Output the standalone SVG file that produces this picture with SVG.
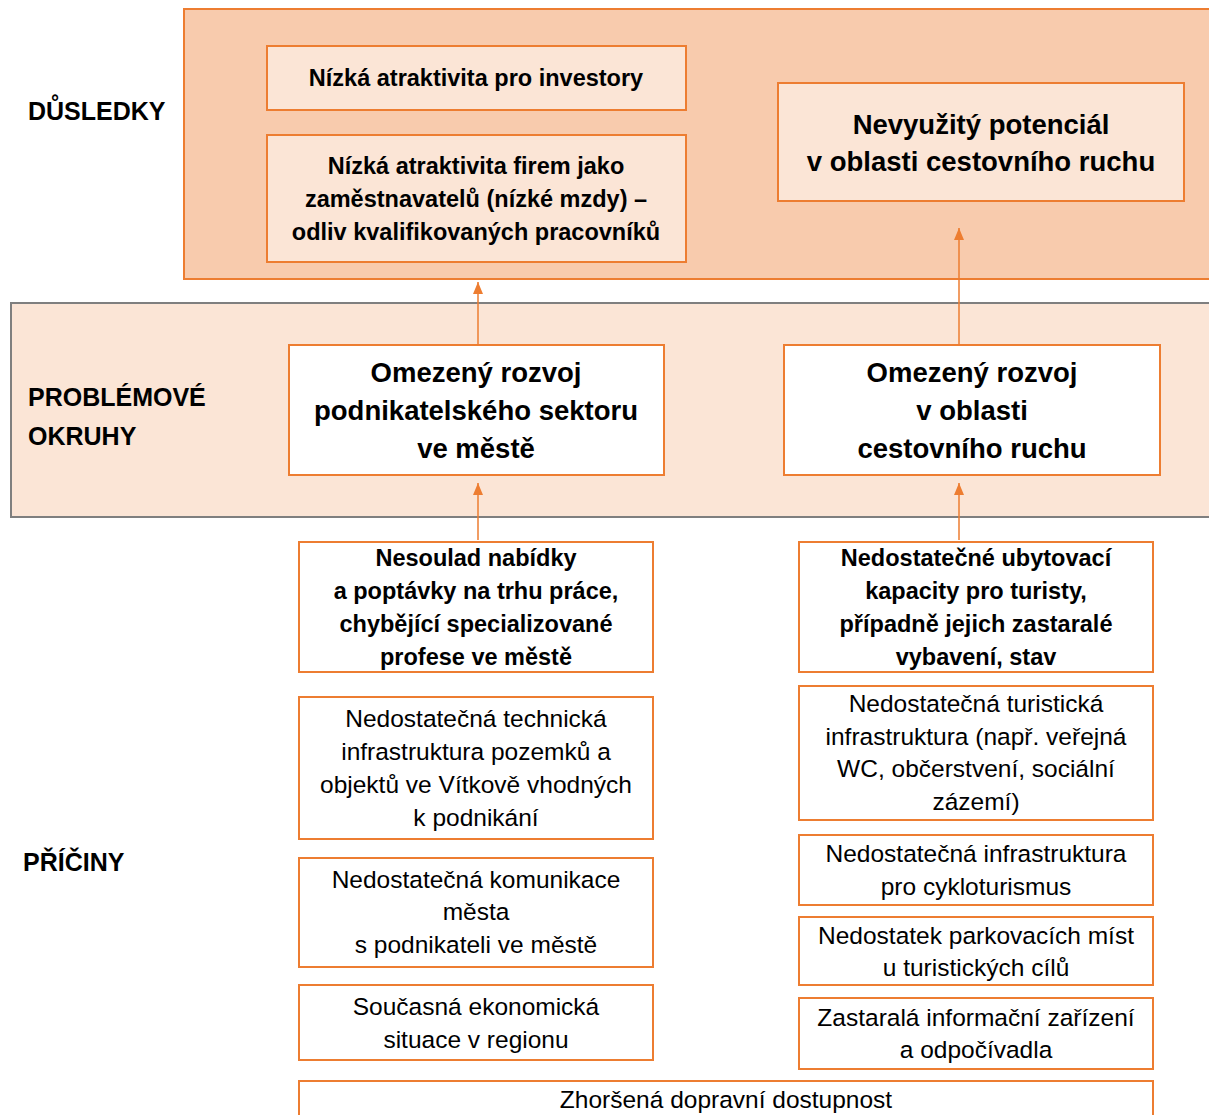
<svg xmlns="http://www.w3.org/2000/svg" width="1209" height="1115" viewBox="0 0 1209 1115">
<defs>
<marker id="ah" viewBox="0 0 12 10" refX="12" refY="5" markerWidth="12" markerHeight="10" markerUnits="userSpaceOnUse" orient="auto">
<path d="M0,0 L12,5 L0,10 Z" fill="#ED7D31"/>
</marker>
<style>
.band1{fill:#F8CBAD;stroke:#ED7D31;stroke-width:2}
.band2{fill:#FBE5D6;stroke:#7F7F7F;stroke-width:2}
.bx{fill:#FFFFFF;stroke:#ED7D31;stroke-width:2}
.bxl{fill:#FBE5D6;stroke:#ED7D31;stroke-width:2}
text{font-family:"Liberation Sans",Arial,sans-serif;fill:#000;text-anchor:middle}
.b24{font-size:23.5px;font-weight:bold}
.b28{font-size:27.5px;font-weight:bold}
.r24{font-size:24.5px}
.lab{font-size:25px;font-weight:bold;text-anchor:start}
.conn{stroke:#ED7D31;stroke-width:1.5;fill:none}
</style>
</defs>
<g id="bands">
<rect class="band1" x="184" y="9" width="1040" height="270"/>
<rect class="band2" x="11" y="303" width="1213" height="214"/>
</g>
<g id="labels">
<text class="lab" x="28" y="120">DŮSLEDKY</text>
<text class="lab" x="28" y="406">PROBLÉMOVÉ</text>
<text class="lab" x="28" y="445">OKRUHY</text>
<text class="lab" x="23" y="871">PŘÍČINY</text>
</g>
<g id="n_investory">
<rect class="bxl" x="267" y="46" width="419" height="64"/>
<text class="b24" x="476" y="86">Nízká atraktivita pro investory</text>
</g>
<g id="n_zamestnavatele">
<rect class="bxl" x="267" y="135" width="419" height="127"/>
<text class="b24" x="476" y="174">Nízká atraktivita firem jako</text>
<text class="b24" x="476" y="207">zaměstnavatelů (nízké mzdy) –</text>
<text class="b24" x="476" y="240">odliv kvalifikovaných pracovníků</text>
</g>
<g id="n_potencial">
<rect class="bxl" x="778" y="83" width="406" height="118"/>
<text class="b28" x="981" y="134">Nevyužitý potenciál</text>
<text class="b28" x="981" y="171">v oblasti cestovního ruchu</text>
</g>
<g id="n_podnik">
<rect class="bx" x="289" y="345" width="375" height="130"/>
<text class="b28" x="476" y="382">Omezený rozvoj</text>
<text class="b28" x="476" y="420">podnikatelského sektoru</text>
<text class="b28" x="476" y="458">ve městě</text>
</g>
<g id="n_cestovni">
<rect class="bx" x="784" y="345" width="376" height="130"/>
<text class="b28" x="972" y="382">Omezený rozvoj</text>
<text class="b28" x="972" y="420">v oblasti</text>
<text class="b28" x="972" y="458">cestovního ruchu</text>
</g>
<g id="n_nesoulad">
<rect class="bx" x="299" y="542" width="354" height="130"/>
<text class="b24" x="476" y="566">Nesoulad nabídky</text>
<text class="b24" x="476" y="599">a poptávky na trhu práce,</text>
<text class="b24" x="476" y="632">chybějící specializované</text>
<text class="b24" x="476" y="665">profese ve městě</text>
</g>
<g id="n_technicka">
<rect class="bx" x="299" y="697" width="354" height="142"/>
<text class="r24" x="476" y="727">Nedostatečná technická</text>
<text class="r24" x="476" y="760">infrastruktura pozemků a</text>
<text class="r24" x="476" y="793">objektů ve Vítkově vhodných</text>
<text class="r24" x="476" y="826">k podnikání</text>
</g>
<g id="n_komunikace">
<rect class="bx" x="299" y="858" width="354" height="109"/>
<text class="r24" x="476" y="888">Nedostatečná komunikace</text>
<text class="r24" x="476" y="920">města</text>
<text class="r24" x="476" y="953">s podnikateli ve městě</text>
</g>
<g id="n_ekonomicka">
<rect class="bx" x="299" y="985" width="354" height="75"/>
<text class="r24" x="476" y="1015">Současná ekonomická</text>
<text class="r24" x="476" y="1048">situace v regionu</text>
</g>
<g id="n_ubytovaci">
<rect class="bx" x="799" y="542" width="354" height="130"/>
<text class="b24" x="976" y="566">Nedostatečné ubytovací</text>
<text class="b24" x="976" y="599">kapacity pro turisty,</text>
<text class="b24" x="976" y="632">případně jejich zastaralé</text>
<text class="b24" x="976" y="665">vybavení, stav</text>
</g>
<g id="n_turisticka">
<rect class="bx" x="799" y="686" width="354" height="134"/>
<text class="r24" x="976" y="712">Nedostatečná turistická</text>
<text class="r24" x="976" y="745">infrastruktura (např. veřejná</text>
<text class="r24" x="976" y="777">WC, občerstvení, sociální</text>
<text class="r24" x="976" y="810">zázemí)</text>
</g>
<g id="n_cyklo">
<rect class="bx" x="799" y="835" width="354" height="70"/>
<text class="r24" x="976" y="862">Nedostatečná infrastruktura</text>
<text class="r24" x="976" y="895">pro cykloturismus</text>
</g>
<g id="n_parkovani">
<rect class="bx" x="799" y="917" width="354" height="68"/>
<text class="r24" x="976" y="944">Nedostatek parkovacích míst</text>
<text class="r24" x="976" y="976">u turistických cílů</text>
</g>
<g id="n_informacni">
<rect class="bx" x="799" y="998" width="354" height="71"/>
<text class="r24" x="976" y="1026">Zastaralá informační zařízení</text>
<text class="r24" x="976" y="1058">a odpočívadla</text>
</g>
<g id="n_doprava">
<rect class="bx" x="299" y="1081" width="854" height="50"/>
<text class="r24" x="726" y="1108">Zhoršená dopravní dostupnost</text>
</g>
<g id="connectors">
<line class="conn" x1="478" y1="345" x2="478" y2="282" marker-end="url(#ah)"/>
<line class="conn" x1="959" y1="345" x2="959" y2="228" marker-end="url(#ah)"/>
<line class="conn" x1="478" y1="540" x2="478" y2="483" marker-end="url(#ah)"/>
<line class="conn" x1="959" y1="540" x2="959" y2="483" marker-end="url(#ah)"/>
</g>
</svg>
